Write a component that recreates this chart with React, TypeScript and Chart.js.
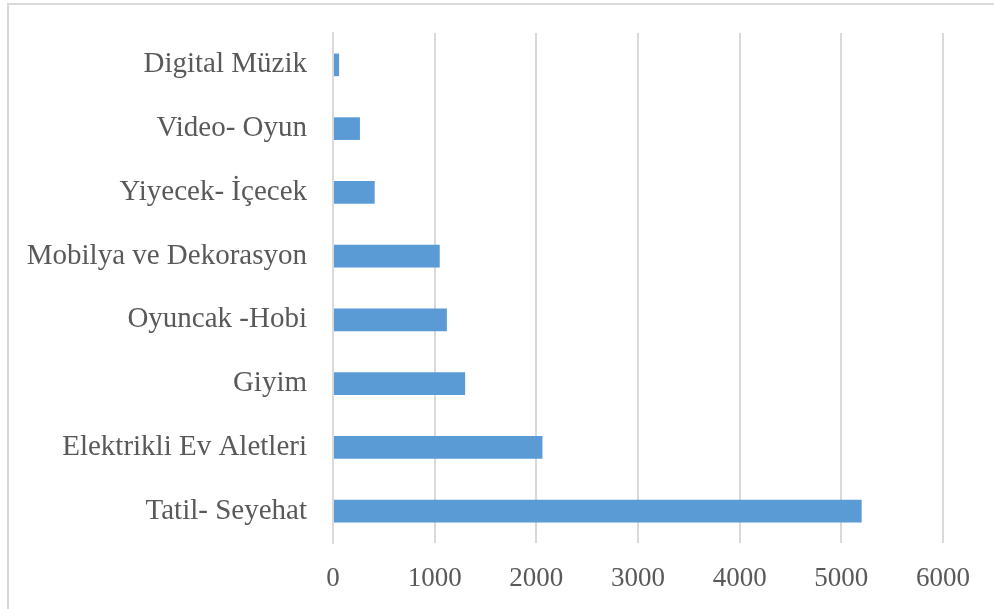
import React, { useEffect, useRef } from "react";
import { Chart, registerables } from "chart.js";

Chart.register(...registerables);

const categories: string[] = [
  "Digital Müzik",
  "Video- Oyun",
  "Yiyecek- İçecek",
  "Mobilya ve Dekorasyon",
  "Oyuncak -Hobi",
  "Giyim",
  "Elektrikli Ev Aletleri",
  "Tatil- Seyehat",
];
const values: number[] = [60, 265, 410, 1050, 1120, 1300, 2060, 5200];
const xMin = 0;
const xMax = 6000;
const xStep = 1000;

const W = 994;
const H = 609;

export default function App() {
  const ref = useRef<HTMLCanvasElement | null>(null);

  useEffect(() => {
    document.body.style.margin = "0";
    document.body.style.overflow = "hidden";
    const canvas = ref.current;
    if (!canvas) return;
    const chart = new Chart(canvas, {
      type: "bar",
      data: {
        labels: categories,
        datasets: [
          {
            data: values,
            backgroundColor: "#5b9bd5",
            borderWidth: 0,
            barPercentage: 0.355,
            categoryPercentage: 1,
          },
        ],
      },
      options: {
        indexAxis: "y",
        responsive: false,
        animation: false,
        devicePixelRatio: 1,
        layout: { padding: { left: 0, right: 51, top: 33, bottom: 0 } },
        plugins: {
          legend: { display: false },
          tooltip: { enabled: false },
          title: { display: false },
        },
        scales: {
          x: {
            type: "linear",
            min: xMin,
            max: xMax,
            ticks: {
              stepSize: xStep,
              padding: 20,
              color: "#595959",
              font: { family: "'Liberation Serif', serif", size: 27 },
              callback: (v: any) => String(v),
            },
            grid: {
              color: "#d9d9d9",
              lineWidth: 2,
              drawTicks: false,
            },
            border: { display: false },
            afterFit: (scale: any) => {
              scale.height = 66;
              scale.paddingLeft = 0;
              scale.paddingRight = 0;
            },
          },
          y: {
            type: "category",
            ticks: {
              padding: 26,
              color: "#595959",
              font: { family: "'Liberation Serif', serif", size: 29 },
            },
            grid: { display: false, drawTicks: false },
            border: { display: true, color: "#d9d9d9", width: 2 },
            afterFit: (scale: any) => {
              scale.width = 333;
              scale.paddingTop = 0;
              scale.paddingBottom = 0;
            },
          },
        },
      },
    });
    return () => chart.destroy();
  }, []);

  return (
    <div
      style={{
        position: "fixed",
        left: 0,
        top: 0,
        width: W,
        height: H,
        overflow: "hidden",
        background: "#ffffff",
      }}
    >
      <div
        style={{
          position: "absolute",
          left: 7,
          top: 3,
          width: W + 20,
          height: H + 20,
          border: "2px solid #d9d9d9",
          boxSizing: "border-box",
        }}
      />
      <canvas
        ref={ref}
        width={W}
        height={H}
        style={{ position: "absolute", left: 0, top: 0, width: W, height: H }}
      />
    </div>
  );
}
